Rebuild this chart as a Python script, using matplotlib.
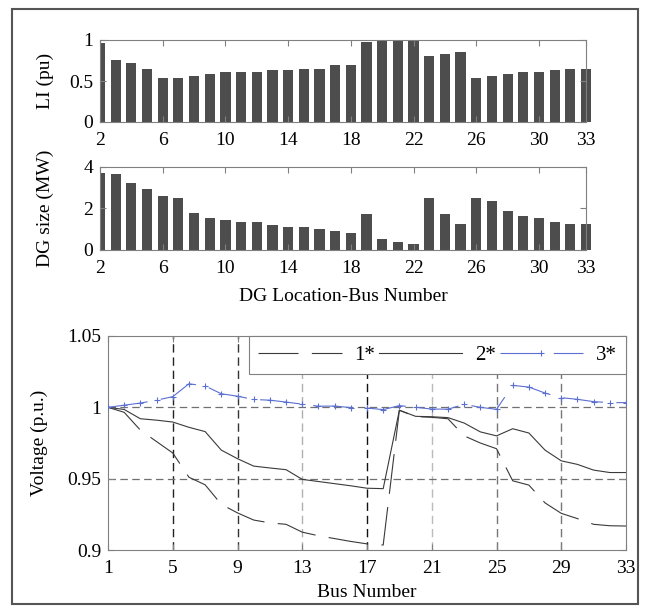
import numpy as np
import matplotlib
matplotlib.use("Agg")
import matplotlib.pyplot as plt
from matplotlib.patches import Rectangle

plt.rcParams['font.family'] = ['Liberation Serif', 'DejaVu Serif']
plt.rcParams['font.size'] = 14

# ---- data ----
dg_bus = list(range(2, 34))
li_pu = [0.96, 0.76, 0.72, 0.65, 0.536, 0.536, 0.56, 0.58, 0.61, 0.61, 0.61,
         0.63, 0.63, 0.65, 0.65, 0.69, 0.69, 0.98, 1.0, 1.0, 1.0, 0.80, 0.83,
         0.85, 0.536, 0.56, 0.58, 0.61, 0.61, 0.63, 0.65, 0.65]
dg_size = [3.73, 3.65, 3.22, 2.95, 2.60, 2.52, 1.80, 1.55, 1.45, 1.37, 1.37,
           1.20, 1.10, 1.10, 1.02, 0.93, 0.82, 1.72, 0.55, 0.38, 0.30, 2.52,
           1.72, 1.27, 2.52, 2.35, 1.90, 1.63, 1.55, 1.37, 1.27, 1.27]
bar_xticks = [2, 6, 10, 14, 18, 22, 26, 30, 33]

bus = list(range(1, 34))
v_case1 = [1.0, 0.9965, 0.984, 0.976, 0.968, 0.951, 0.9457, 0.932, 0.926,
           0.921, 0.919, 0.918, 0.9125, 0.910, 0.908, 0.906, 0.9043, 0.9035,
           0.9979, 0.9935, 0.9930, 0.992, 0.980, 0.975, 0.971, 0.9485, 0.9455,
           0.933, 0.9257, 0.922, 0.918, 0.917, 0.9168]
v_case2 = [1.0, 0.9985, 0.992, 0.991, 0.9897, 0.986, 0.983, 0.970, 0.964,
           0.9588, 0.9575, 0.9563, 0.9495, 0.948, 0.9465, 0.945, 0.9433, 0.943,
           0.998, 0.9937, 0.9934, 0.9928, 0.989, 0.9828, 0.980, 0.985, 0.982,
           0.970, 0.9625, 0.960, 0.956, 0.9543, 0.9543]
v_case3 = [1.0, 1.0015, 1.003, 1.005, 1.0075, 1.0165, 1.015, 1.0095, 1.0078,
           1.0055, 1.005, 1.0037, 1.0022, 1.0008, 1.0009, 0.9998, 0.9995,
           0.9984, 1.0012, 1.0, 0.9988, 0.9987, 1.0021, 1.0, 0.9986, 1.0154,
           1.0142, 1.010, 1.0068, 1.0056, 1.004, 1.0033, 1.0033]
case_labels = ['1*', '2*', '3*']
v_xticks = [1, 5, 9, 13, 17, 21, 25, 29, 33]
v_yticks = [0.9, 0.95, 1.0, 1.05]
v_yticklabels = ['0.9', '0.95', '1', '1.05']

W, H = 648, 608
fig = plt.figure(figsize=(W / 100, H / 100), dpi=100)


def px_axes(x0, y0, x1, y1):
    return fig.add_axes([x0 / W, 1 - y1 / H, (x1 - x0) / W, (y1 - y0) / H])


spine_c = '#808080'


def style(ax):
    for s in ax.spines.values():
        s.set_color(spine_c)
        s.set_linewidth(0.8)
    ax.tick_params(direction='in', length=4, width=0.8, color=spine_c,
                   top=True, right=True, pad=5, labelsize=14)
    ax.tick_params(axis='x', pad=7)


# top: LI
ax1 = px_axes(100, 40, 586, 122)
bars = ax1.bar(dg_bus, li_pu, width=0.65, color='#4d4d4d')
for b in bars[1:]:
    b.set_clip_on(False)
ax1.set_xlim(2, 33)
ax1.set_ylim(0, 1)
ax1.set_xticks(bar_xticks)
ax1.set_yticks([0, 0.5, 1])
ax1.set_yticklabels(['0', '0.5', '1'])
ax1.set_ylabel('LI (pu)')
ax1.yaxis.set_label_coords(-0.095, 0.5)
style(ax1)

# middle: DG size
ax2 = px_axes(100, 167, 586, 250)
bars = ax2.bar(dg_bus, dg_size, width=0.65, color='#4d4d4d')
for b in bars[1:]:
    b.set_clip_on(False)
ax2.set_xlim(2, 33)
ax2.set_ylim(0, 4)
ax2.set_xticks(bar_xticks)
ax2.set_yticks([0, 2, 4])
ax2.set_ylabel('DG size (MW)')
ax2.yaxis.set_label_coords(-0.095, 0.5)
ax2.set_xlabel('DG Location-Bus Number')
ax2.xaxis.set_label_coords(0.5, -0.46)
style(ax2)

# bottom: voltage profile
ax3 = px_axes(108, 336, 626, 550)
grid_cols = ['#222222', '#333333', '#b0b0b0', '#111111', '#bbbbbb', '#777777', '#777777']
for xv, c in zip(v_xticks[1:-1], grid_cols):
    ax3.axvline(xv, color=c, lw=1.0, dashes=(6, 3.5), zorder=1)
for yv in v_yticks[1:-1]:
    ax3.axhline(yv, color='#707070', lw=0.9, dashes=(6, 3.5), zorder=1)

ax3.plot(bus, v_case1, color='#3a3a3a', lw=0.8, dashes=(36, 12), label=case_labels[0], zorder=3)
ax3.plot(bus, v_case2, color='#3a3a3a', lw=0.8, label=case_labels[1], zorder=3)
ax3.plot(bus, v_case3, color='#5b6fd1', lw=0.8, dashes=(36, 12), marker='+',
         ms=4, mew=0.8, label=case_labels[2], zorder=3)
ax3.set_xlim(1, 33)
ax3.set_ylim(0.9, 1.05)
ax3.set_xticks(v_xticks)
ax3.set_yticks(v_yticks)
ax3.set_yticklabels(v_yticklabels)
ax3.set_xlabel('Bus Number')
ax3.xaxis.set_label_coords(0.5, -0.16)
ax3.set_ylabel('Voltage (p.u.)')
ax3.yaxis.set_label_coords(-0.115, 0.5)
style(ax3)

leg = ax3.legend(ncol=3, loc='upper left', bbox_to_anchor=(0.272, 0.0, 0.728, 1.0),
                 mode='expand', borderaxespad=0, fancybox=False, framealpha=1,
                 edgecolor=spine_c, handlelength=4.0, handletextpad=0.6,
                 columnspacing=0.8, fontsize=15, borderpad=0.45)
leg.get_frame().set_linewidth(0.8)

# outer frame
fig.patches.append(Rectangle((12 / W, 1 - 604 / H), 626 / W, 595 / H,
                             transform=fig.transFigure, fill=False,
                             edgecolor='#555555', lw=1.5))

fig.savefig('out.png', dpi=100)
